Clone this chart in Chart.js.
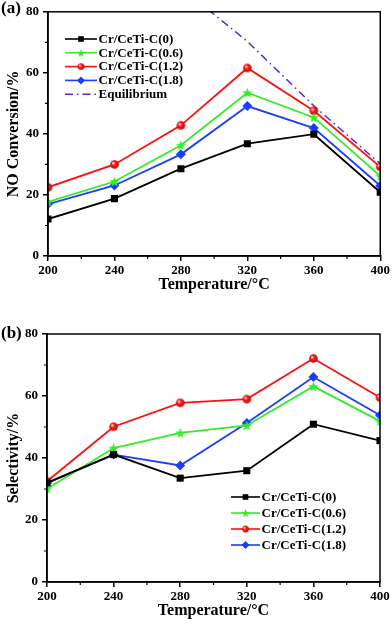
<!DOCTYPE html>
<html><head><meta charset="utf-8">
<script src="https://cdn.jsdelivr.net/npm/chart.js@4.4.1/dist/chart.umd.min.js"></script>
<style>
html,body{margin:0;padding:0;background:#fff;}
#wrap{position:relative;width:392px;height:626px;overflow:hidden;}
.box{position:absolute;left:0;width:392px;}
</style></head><body>
<div id="wrap">
<div class="box" style="top:0;height:300px"><canvas id="c1"></canvas></div>
<div class="box" style="top:300px;height:326px"><canvas id="c2"></canvas></div>
</div>
<script>
// ---------- data ----------
const temperatures = [200, 240, 280, 320, 360, 400];
const seriesNames = ['Cr/CeTi-C(0)', 'Cr/CeTi-C(0.6)', 'Cr/CeTi-C(1.2)', 'Cr/CeTi-C(1.8)'];
const equilibriumName = 'Equilibrium';
const conversion0  = [12.1, 18.8, 28.6, 36.8, 39.9, 20.9];
const conversion06 = [17.7, 24.4, 36.3, 53.5, 45.4, 26.2];
const conversion12 = [22.5, 30.0, 42.8, 61.6, 47.6, 29.2];
const conversion18 = [17.0, 23.1, 33.3, 49.1, 41.9, 23.0];
const equilibriumTemps  = [280, 320, 360, 400];
const equilibriumValues = [88.0, 70.3, 49.2, 30.2];
const selectivity0  = [32.0, 41.1, 33.5, 35.9, 50.9, 45.6];
const selectivity06 = [30.1, 43.2, 48.1, 50.5, 63.1, 51.9];
const selectivity12 = [32.5, 50.1, 57.8, 59.0, 72.1, 59.5];
const selectivity18 = [31.9, 41.1, 37.6, 51.3, 66.1, 53.8];
const xTickValues = [200, 240, 280, 320, 360, 400];
const xMinorValues = [220, 260, 300, 340, 380];
const yTickValues = [0, 20, 40, 60, 80];
const yMinorValues = [10, 30, 50, 70];

// ---------- styles ----------
const FONT = 'Liberation Serif, Times New Roman, serif';
Chart.defaults.font.family = FONT;
Chart.defaults.font.weight = 'bold';
Chart.defaults.font.size = 13;
Chart.defaults.color = '#000';

function makeSphere(r) {
  const s = Math.ceil(r * 2 + 2), c = document.createElement('canvas');
  c.width = c.height = s;
  const g = c.getContext('2d'), cx = s / 2, cy = s / 2;
  const grad = g.createRadialGradient(cx - r * 0.35, cy - r * 0.35, r * 0.1, cx, cy, r);
  grad.addColorStop(0, '#ffe0e0');
  grad.addColorStop(0.35, '#ff2222');
  grad.addColorStop(1, '#cc0000');
  g.fillStyle = grad;
  g.beginPath(); g.arc(cx, cy, r, 0, Math.PI * 2); g.fill();
  return c;
}
function makeStar(R, color) {
  const s = Math.ceil(R * 2 + 2), c = document.createElement('canvas');
  c.width = c.height = s;
  const g = c.getContext('2d'), cx = s / 2, cy = s / 2 + 0.5;
  g.fillStyle = color;
  g.beginPath();
  for (let i = 0; i < 10; i++) {
    const rr = i % 2 ? R * 0.42 : R;
    const a = -Math.PI / 2 + i * Math.PI / 5;
    g.lineTo(cx + rr * Math.cos(a), cy + rr * Math.sin(a));
  }
  g.closePath(); g.fill();
  return c;
}
const GREEN = '#35ec2a', RED = '#ff1010', BLUE = '#1c3cff', PURPLE = '#5326dc';
const sphere = makeSphere(4.3);
const star = makeStar(5.5, GREEN);
const seriesStyles = [
  {color: '#000', pointStyle: 'rect', radius: 5},
  {color: GREEN, pointStyle: star, radius: 5},
  {color: RED, pointStyle: sphere, radius: 5},
  {color: BLUE, pointStyle: 'rectRot', radius: 5}
];

function series(values, i) {
  const st = seriesStyles[i];
  return {
    label: seriesNames[i],
    data: temperatures.map((t, k) => ({x: t, y: values[k]})),
    borderColor: st.color, backgroundColor: st.color,
    pointBackgroundColor: st.color, pointBorderColor: st.color,
    pointStyle: st.pointStyle, pointRadius: st.radius, pointBorderWidth: 0,
    borderWidth: 1.8, tension: 0, _legendMarker: true
  };
}

// ---------- plugins ----------
const framePlugin = {
  id: 'frame',
  afterDraw(chart, args, opts) {
    const {ctx, chartArea: a, scales: {x, y}} = chart;
    ctx.save();
    ctx.strokeStyle = '#000'; ctx.lineWidth = 1.5;
    ctx.strokeRect(a.left, a.top, a.right - a.left, a.bottom - a.top);
    ctx.lineWidth = 1.2;
    ctx.beginPath();
    xMinorValues.forEach(v => { const p = x.getPixelForValue(v); ctx.moveTo(p, a.bottom); ctx.lineTo(p, a.bottom + 3); });
    yMinorValues.forEach(v => { const p = y.getPixelForValue(v); ctx.moveTo(a.left, p); ctx.lineTo(a.left - 3, p); });
    ctx.stroke();
    // panel tag
    ctx.fillStyle = '#000';
    ctx.font = 'bold 17px ' + FONT;
    ctx.textBaseline = 'middle'; ctx.textAlign = 'left';
    ctx.fillText(opts.tag, 1, opts.tagY);
    // legend
    const L = opts.legend;
    ctx.font = 'bold 13px ' + FONT;
    chart.data.datasets.forEach((ds, i) => {
      const yy = L.y + i * L.dy;
      ctx.strokeStyle = ds.borderColor; ctx.fillStyle = ds.borderColor;
      ctx.lineWidth = 1.6;
      ctx.setLineDash(ds.borderDash || []);
      ctx.beginPath(); ctx.moveTo(L.x, yy); ctx.lineTo(L.x + L.len, yy); ctx.stroke();
      ctx.setLineDash([]);
      const cx = L.x + L.len / 2;
      const ps = ds.pointStyle;
      if (ds.pointRadius > 0) {
        if (typeof ps === 'object') {
          ctx.drawImage(ps, cx - ps.width * 0.4, yy - ps.height * 0.4, ps.width * 0.8, ps.height * 0.8);
        } else if (ps === 'rect') {
          ctx.fillRect(cx - 2.8, yy - 2.8, 5.6, 5.6);
        } else if (ps === 'rectRot') {
          ctx.beginPath(); ctx.moveTo(cx, yy - 4); ctx.lineTo(cx + 4, yy); ctx.lineTo(cx, yy + 4); ctx.lineTo(cx - 4, yy); ctx.closePath(); ctx.fill();
        }
      }
      ctx.fillStyle = '#000';
      ctx.fillText(ds.label, L.x + L.len + 1.5, yy + 0.5);
    });
    ctx.restore();
  }
};

function makeChart(id, datasets, yTitle, layoutOpts, frameOpts) {
  return new Chart(document.getElementById(id), {
    type: 'line',
    data: {datasets},
    plugins: [framePlugin],
    options: {
      responsive: true, maintainAspectRatio: false, animation: false,
      devicePixelRatio: 1,
      layout: {padding: {left: 0, right: layoutOpts.right, top: layoutOpts.top, bottom: 0}},
      plugins: {legend: {display: false}, tooltip: {enabled: false}, frame: frameOpts},
      scales: {
        x: {
          type: 'linear', min: 200, max: 400,
          afterBuildTicks: s => { s.ticks = xTickValues.map(v => ({value: v})); },
          afterFit: s => { s.height = layoutOpts.xHeight; },
          grid: {drawOnChartArea: false, drawTicks: true, tickLength: 5, color: '#000', lineWidth: 1.5},
          border: {display: true, color: '#000', width: 1.5},
          ticks: {padding: 2, font: {size: 13, weight: 'bold'}, color: '#000', maxRotation: 0},
          title: {display: true, text: 'Temperature/°C', font: {size: 16, weight: 'bold'}, color: '#000', padding: {top: 0, bottom: 6}}
        },
        y: {
          type: 'linear', min: 0, max: 80,
          afterBuildTicks: s => { s.ticks = yTickValues.map(v => ({value: v})); },
          afterFit: s => { s.width = layoutOpts.yWidth; },
          grid: {drawOnChartArea: false, drawTicks: true, tickLength: 5, color: '#000', lineWidth: 1.5},
          border: {display: true, color: '#000', width: 1.5},
          ticks: {padding: 4, font: {size: 13, weight: 'bold'}, color: '#000'},
          title: {display: true, text: yTitle, font: {size: 16, weight: 'bold'}, color: '#000', padding: {top: 4, bottom: 0}}
        }
      }
    }
  });
}

const topSets = [
  series(conversion0, 0), series(conversion06, 1), series(conversion12, 2), series(conversion18, 3),
  {
    label: equilibriumName,
    data: equilibriumTemps.map((t, k) => ({x: t, y: equilibriumValues[k]})),
    borderColor: PURPLE, backgroundColor: PURPLE, borderWidth: 1.5,
    borderDash: [8, 4, 1.5, 4], pointRadius: 0, tension: 0, clip: 0
  }
];
const bottomSets = [
  series(selectivity0, 0), series(selectivity06, 1), series(selectivity12, 2), series(selectivity18, 3)
];

makeChart('c1', topSets, 'NO Conversion/%',
  {right: 11, top: 8, xHeight: 44, yWidth: 48},
  {tag: '(a)', tagY: 9, legend: {x: 65, y: 39, dy: 13.8, len: 32}});
makeChart('c2', bottomSets, 'Selectivity/%',
  {right: 12, top: 34, xHeight: 44, yWidth: 47},
  {tag: '(b)', tagY: 34, legend: {x: 231, y: 197, dy: 16, len: 29}});
</script>
</body></html>
